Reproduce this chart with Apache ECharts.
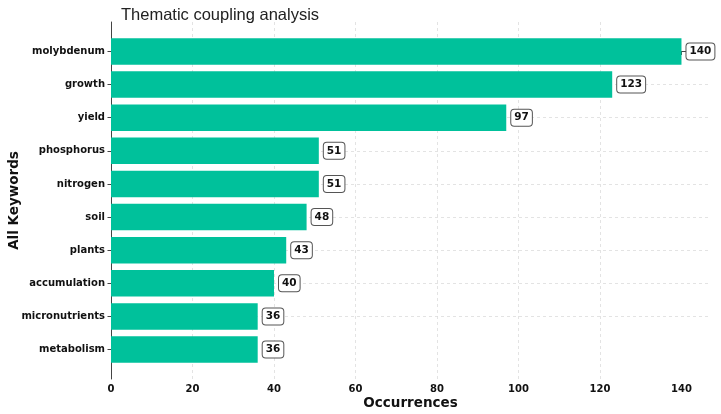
<!DOCTYPE html>
<html>
<head>
<meta charset="utf-8">
<script src="https://cdn.jsdelivr.net/npm/echarts@6/dist/echarts.min.js"></script>
<style>
  html, body { margin: 0; padding: 0; background: #fff; }
  #chart { width: 721px; height: 414px; }
</style>
</head>
<body>
<div id="chart"></div>
<script>
// keywords, top to bottom
const categories = ["molybdenum", "growth", "yield", "phosphorus", "nitrogen",
    "soil", "plants", "accumulation", "micronutrients", "metabolism"];
const counts = [140, 123, 97, 51, 51, 48, 43, 40, 36, 36];
const xTicks = [0, 20, 40, 60, 80, 100, 120, 140];
const yTicks = categories.map((c, i) => i);

const barColor = "#00c19b";
const font = "DejaVu Sans";

const chart = echarts.init(document.getElementById("chart"));

chart.setOption({
    backgroundColor: "#fff",
    animation: false,
    title: {
        text: "Thematic coupling analysis",
        left: 116,
        top: 2,
        textStyle: {
            fontFamily: "Liberation Sans",
            fontSize: 16.5,
            fontWeight: "normal",
            color: "#222",
        },
    },
    grid: {
        left: 111,
        right: 11,
        top: 22,
        bottom: 35,
        outerBoundsMode: "none",
        containLabel: false,
    },
    xAxis: {
        type: "value",
        min: 0,
        max: 147,
        interval: 20,
        name: "Occurrences",
        nameLocation: "middle",
        nameGap: 17,
        nameMoveOverlap: false,
        nameTextStyle: { fontFamily: font, fontSize: 13.5, fontWeight: "bold", color: "#111" },
        axisLine: { show: true, lineStyle: { color: "#444", width: 1 } },
        axisTick: { show: true, customValues: xTicks, length: 3.5, lineStyle: { color: "#444" } },
        axisLabel: {
            customValues: xTicks,
            margin: 5,
            fontFamily: font,
            fontSize: 10,
            fontWeight: "bold",
            color: "#111",
        },
        splitLine: {
            show: true,
            showMinLine: false,
            showMaxLine: false,
            lineStyle: { color: "#dcdcdc", type: [3, 3], width: 0.8 },
        },
    },
    yAxis: {
        type: "value",
        inverse: true,
        min: -0.89,
        max: 9.89,
        name: "All Keywords",
        nameLocation: "middle",
        nameGap: 90,
        nameMoveOverlap: false,
        nameTextStyle: { fontFamily: font, fontSize: 13.5, fontWeight: "bold", color: "#111" },
        axisLine: { show: true, lineStyle: { color: "#444", width: 1 } },
        axisTick: { show: true, customValues: yTicks, length: 3.5, lineStyle: { color: "#444" } },
        axisLabel: {
            customValues: yTicks,
            margin: 6,
            fontFamily: font,
            fontSize: 10,
            fontWeight: "bold",
            color: "#111",
            formatter: (v) => categories[Math.round(v)] || "",
        },
        splitLine: {
            show: true,
            showMinLine: false,
            showMaxLine: false,
            lineStyle: { color: "#dcdcdc", type: [3, 3], width: 0.8 },
        },
    },
    series: [
        {
            type: "custom",
            data: counts.map((v, i) => [v, i]),
            renderItem: function (params, api) {
                const val = api.value(0);
                const idx = api.value(1);
                const start = api.coord([0, idx]);
                const end = api.coord([val, idx]);
                const h = Math.abs(api.size([0, 0.8])[1]);
                return {
                    type: "group",
                    children: [
                        {
                            type: "rect",
                            shape: { x: start[0], y: end[1] - h / 2, width: end[0] - start[0], height: h },
                            style: { fill: barColor },
                        },
                        {
                            type: "text",
                            x: end[0] + 5,
                            y: end[1],
                            style: {
                                text: String(val),
                                fill: "#111",
                                fontFamily: font,
                                fontSize: 10.5,
                                fontWeight: "bold",
                                align: "left",
                                verticalAlign: "middle",
                                backgroundColor: "#fff",
                                borderColor: "#555",
                                borderWidth: 1,
                                borderRadius: 3,
                                padding: [3, 3, 2, 3],
                            },
                        },
                    ],
                };
            },
        },
    ],
});
</script>
</body>
</html>
